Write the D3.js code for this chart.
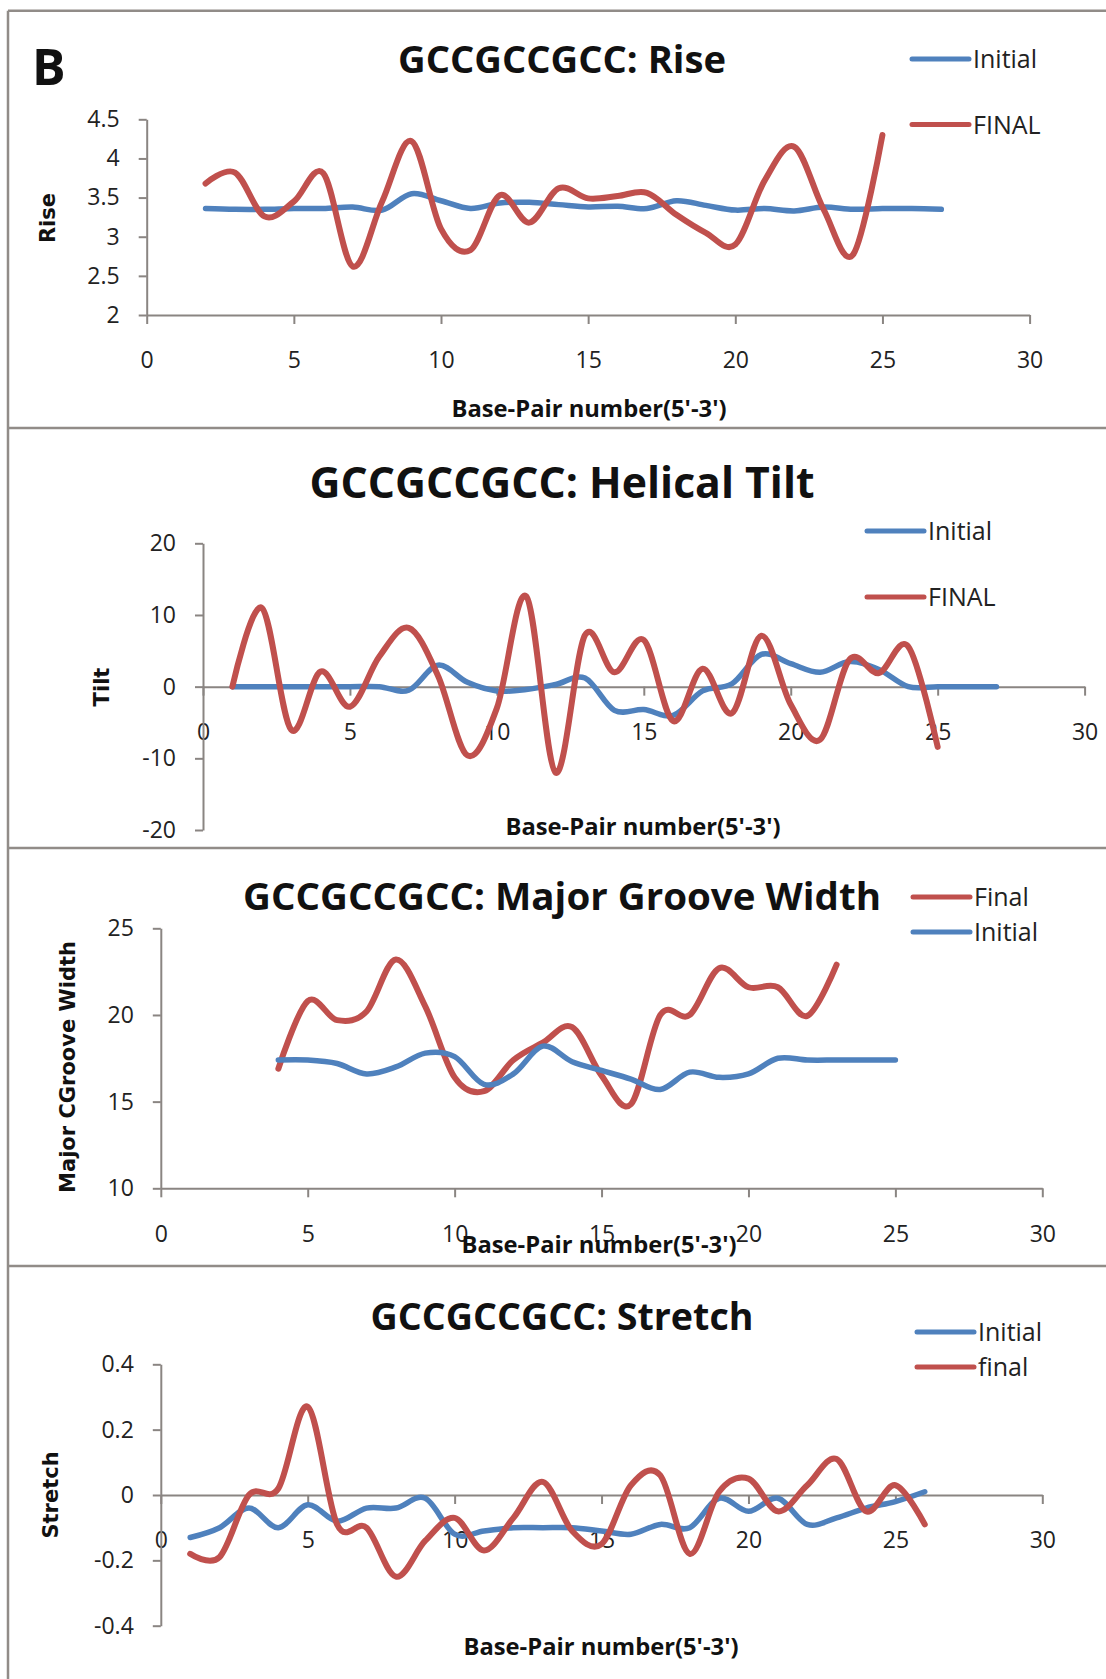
<!DOCTYPE html>
<html>
<head>
<meta charset="utf-8">
<script src="https://cdn.jsdelivr.net/npm/d3@7"></script>
<style>
  body { margin: 0; background: #fff; }
  svg { display: block; }
</style>
</head>
<body>
<div id="chart"></div>
<script>
// x categories: base-pair number, axis 0..30
const xTicks = [0, 5, 10, 15, 20, 25, 30];

// Rise (bp 2..27 initial, bp 2..25 final)
const riseTicks = [2, 2.5, 3, 3.5, 4, 4.5];
const riseInitial = [3.36, 3.35, 3.35, 3.36, 3.36, 3.38, 3.34, 3.55, 3.46, 3.36, 3.43, 3.44, 3.41,
  3.38, 3.39, 3.36, 3.46, 3.40, 3.34, 3.36, 3.33, 3.38, 3.35, 3.36, 3.36, 3.35];
const riseFinal = [3.68, 3.82, 3.26, 3.45, 3.81, 2.62, 3.45, 4.22, 3.1, 2.83, 3.53, 3.18, 3.62,
  3.49, 3.52, 3.56, 3.28, 3.05, 2.9, 3.72, 4.15, 3.35, 2.77, 4.3];

// Helical tilt (bp 1..27 initial, bp 1..25 final)
const tiltTicks = [-20, -10, 0, 10, 20];
const tiltInitial = [0, 0, 0, 0, 0, 0, -0.5, 3, 0.6, -0.6, -0.4, 0.3, 1.2, -3.3, -3.2, -4, -0.6,
  0.4, 4.5, 3.2, 2, 3.5, 2.4, 0, 0, 0, 0];
const tiltFinal = [0, 11, -6, 2.1, -2.8, 4.2, 8.2, 1.5, -9.6, -3, 12.6, -12, 7.2, 2, 6.5, -4.8,
  2.5, -3.7, 7.1, -2.5, -7.4, 3.8, 1.9, 5.6, -8.4];

// Major groove width (bp 4..23 final, bp 4..25 initial)
const grooveTicks = [10, 15, 20, 25];
const grooveFinal = [16.9, 20.8, 19.7, 20.2, 23.2, 20.5, 16.4, 15.6, 17.4, 18.4, 19.3, 16.5,
  14.85, 20.0, 20.0, 22.7, 21.6, 21.6, 19.95, 22.9];
const grooveInitial = [17.4, 17.4, 17.2, 16.6, 17.0, 17.8, 17.6, 16.0, 16.6, 18.2, 17.3, 16.8,
  16.3, 15.7, 16.7, 16.4, 16.6, 17.5, 17.4, 17.4, 17.4, 17.4];

// Stretch (bp 1..26 both)
const stretchTicks = [-0.4, -0.2, 0, 0.2, 0.4];
const stretchInitial = [-0.13, -0.10, -0.04, -0.10, -0.03, -0.08, -0.04, -0.04, -0.01, -0.12,
  -0.11, -0.10, -0.10, -0.10, -0.11, -0.12, -0.09, -0.10, -0.01, -0.05, -0.01, -0.09, -0.07,
  -0.04, -0.02, 0.01];
const stretchFinal = [-0.18, -0.19, 0.0, 0.02, 0.27, -0.09, -0.10, -0.25, -0.14, -0.07, -0.17,
  -0.07, 0.04, -0.11, -0.15, 0.03, 0.06, -0.18, 0.01, 0.05, -0.05, 0.03, 0.11, -0.05, 0.03, -0.09];

const BLUE = '#4f81bd';
const RED = '#c0504d';
const AXIS = '#8a8582';
const FRAME = '#918c88';

const width = 1106, height = 1679;

const panels = [
  {
    title: 'GCCGCCGCC: Rise', titleY: 73, titleSize: 38, titleLen: 328,
    yLabel: 'Rise', yLabelX: 48, yLabelY: 218,
    xLabelX: 589, xLabelY: 417,
    left: 146.7, right: 1029.6, top: 119.3, bottom: 315, yTicks: riseTicks, cross: 2,
    legendX: 912, series: [
      { name: 'Initial', values: riseInitial, from: 2, color: BLUE, ly: 59 },
      { name: 'FINAL', values: riseFinal, from: 2, color: RED, ly: 124.5 },
    ],
  },
  {
    title: 'GCCGCCGCC: Helical Tilt', titleY: 498, titleSize: 43, titleLen: 505,
    yLabel: 'Tilt', yLabelX: 102, yLabelY: 687,
    xLabelX: 643, xLabelY: 835,
    left: 203, right: 1084.6, top: 543.3, bottom: 830, yTicks: tiltTicks, cross: 0,
    legendX: 867, series: [
      { name: 'Initial', values: tiltInitial, from: 1, color: BLUE, ly: 531 },
      { name: 'FINAL', values: tiltFinal, from: 1, color: RED, ly: 597 },
    ],
  },
  {
    title: 'GCCGCCGCC: Major Groove Width', titleY: 910, titleSize: 38, titleLen: 638,
    yLabel: 'Major CGroove Width', yLabelX: 68, yLabelY: 1067,
    xLabelX: 599, xLabelY: 1253,
    left: 160.8, right: 1042.3, top: 928.3, bottom: 1188.3, yTicks: grooveTicks, cross: 10,
    legendX: 913, series: [
      { name: 'Final', values: grooveFinal, from: 4, color: RED, ly: 897 },
      { name: 'Initial', values: grooveInitial, from: 4, color: BLUE, ly: 932 },
    ],
  },
  {
    title: 'GCCGCCGCC: Stretch', titleY: 1330, titleSize: 38, titleLen: 383,
    yLabel: 'Stretch', yLabelX: 51, yLabelY: 1495,
    xLabelX: 601, xLabelY: 1655,
    left: 160.8, right: 1042.3, top: 1364.3, bottom: 1625.7, yTicks: stretchTicks, cross: 0,
    legendX: 917, series: [
      { name: 'Initial', values: stretchInitial, from: 1, color: BLUE, ly: 1332 },
      { name: 'final', values: stretchFinal, from: 1, color: RED, ly: 1367 },
    ],
  },
];

const svg = d3.select('#chart')
  .append('svg')
  .attr('width', width)
  .attr('height', height);

// Frame lines between the stacked panels
const frameRows = [10.7, 428, 848, 1266];
svg.selectAll('.frame-row')
  .data(frameRows)
  .enter()
  .append('line')
  .attr('x1', 8).attr('x2', width)
  .attr('y1', (d) => d).attr('y2', (d) => d)
  .attr('stroke', FRAME).attr('stroke-width', 2.5);
svg.append('line')
  .attr('x1', 8).attr('x2', 8)
  .attr('y1', frameRows[0]).attr('y2', height)
  .attr('stroke', FRAME).attr('stroke-width', 2.5);

// Panel letter
svg.append('text')
  .attr('x', 32).attr('y', 85)
  .attr('font-family', 'Open Sans, sans-serif')
  .attr('font-weight', 700)
  .attr('font-size', 50)
  .attr('fill', '#111')
  .text('B');

function drawPanel(p) {
  const x = d3.scaleLinear().domain([0, 30]).range([p.left, p.right]);
  const y = d3.scaleLinear().domain(d3.extent(p.yTicks)).range([p.bottom, p.top]);
  const g = svg.append('g');

  // Axes
  g.append('g')
    .attr('transform', `translate(0,${y(p.cross)})`)
    .call(d3.axisBottom(x).tickValues(xTicks).tickSize(9).tickSizeOuter(0).tickPadding(28)
      .tickFormat((d) => String(d)));

  g.append('g')
    .attr('transform', `translate(${x(0)},0)`)
    .call(d3.axisLeft(y).tickValues(p.yTicks).tickSize(8).tickSizeOuter(0).tickPadding(19)
      .tickFormat((d) => String(d)));

  g.selectAll('.domain, .tick line').attr('stroke', AXIS).attr('stroke-width', 2);
  g.selectAll('.tick text')
    .attr('font-family', 'Open Sans, sans-serif')
    .attr('font-size', 23)
    .attr('fill', '#222');

  // Title
  g.append('text')
    .attr('x', 562).attr('y', p.titleY)
    .attr('text-anchor', 'middle')
    .attr('font-family', 'Open Sans, sans-serif')
    .attr('font-weight', 700)
    .attr('font-size', p.titleSize)
    .attr('textLength', p.titleLen)
    .attr('lengthAdjust', 'spacingAndGlyphs')
    .attr('fill', '#111')
    .text(p.title);

  // Axis titles
  g.append('text')
    .attr('x', p.xLabelX).attr('y', p.xLabelY)
    .attr('text-anchor', 'middle')
    .attr('font-family', 'Open Sans, sans-serif')
    .attr('font-weight', 700)
    .attr('font-size', 24)
    .attr('textLength', 275)
    .attr('lengthAdjust', 'spacingAndGlyphs')
    .attr('fill', '#111')
    .text("Base-Pair number(5'-3')");

  g.append('text')
    .attr('transform', `translate(${p.yLabelX},${p.yLabelY}) rotate(-90)`)
    .attr('text-anchor', 'middle')
    .attr('dominant-baseline', 'central')
    .attr('font-family', 'DejaVu Sans, sans-serif')
    .attr('font-weight', 700)
    .attr('font-size', 21)
    .attr('fill', '#111')
    .text(p.yLabel);

  // Series lines (Excel-style smoothed)
  const line = d3.line()
    .x((d) => x(d.bp))
    .y((d) => y(d.v))
    .curve(d3.curveCardinal.tension(0));

  p.series.forEach((s) => {
    const pts = s.values.map((v, i) => ({ bp: s.from + i, v }));
    g.append('path')
      .datum(pts)
      .attr('fill', 'none')
      .attr('stroke', s.color)
      .attr('stroke-width', s.color === RED ? 6 : 5.5)
      .attr('stroke-linejoin', 'round')
      .attr('stroke-linecap', 'round')
      .attr('d', line);
  });

  // Legend
  const leg = g.selectAll('.legend')
    .data(p.series)
    .enter()
    .append('g');
  leg.append('line')
    .attr('x1', p.legendX).attr('x2', p.legendX + 57)
    .attr('y1', (d) => d.ly).attr('y2', (d) => d.ly)
    .attr('stroke', (d) => d.color)
    .attr('stroke-width', 5)
    .attr('stroke-linecap', 'round');
  leg.append('text')
    .attr('x', p.legendX + 61)
    .attr('y', (d) => d.ly + 9)
    .attr('font-family', 'Open Sans, sans-serif')
    .attr('font-size', 25)
    .attr('fill', '#222')
    .text((d) => d.name);
}

panels.forEach(drawPanel);
</script>
</body>
</html>
